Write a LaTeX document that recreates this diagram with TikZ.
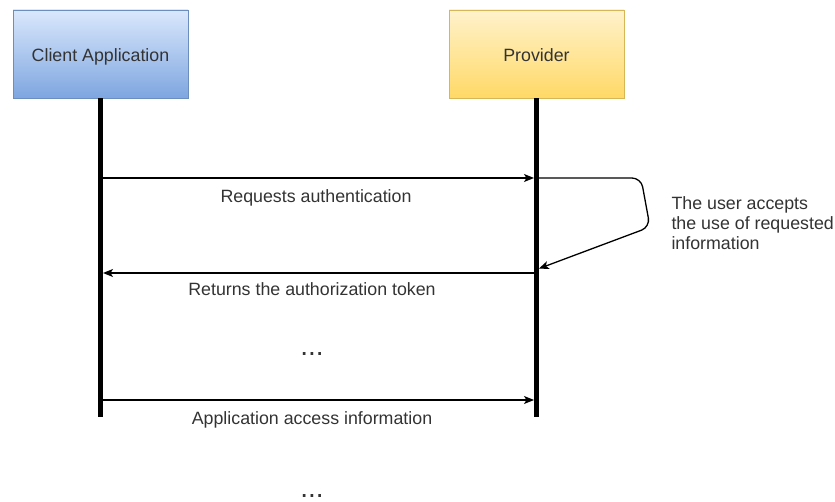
\documentclass[tikz,border=0pt]{standalone}
\usepackage{fontspec}
\setmainfont{Liberation Sans}
\usetikzlibrary{arrows.meta, positioning}
\definecolor{clienttop}{HTML}{DAE8FC}
\definecolor{clientbot}{HTML}{7EA6E0}
\definecolor{clientline}{HTML}{6C8EBF}
\definecolor{provtop}{HTML}{FFF2CC}
\definecolor{provbot}{HTML}{FFD966}
\definecolor{provline}{HTML}{D6B656}
\definecolor{txt}{HTML}{333333}
\tikzstyle{actor} = [rectangle, minimum width=175pt, minimum height=88pt,
text centered, text height=15pt, text depth=0pt, font=\fontsize{17.8}{21}\selectfont, text=txt]
\tikzstyle{client} = [actor, draw=clientline, top color=clienttop, bottom color=clientbot]
\tikzstyle{provider} = [actor, draw=provline, top color=provtop, bottom color=provbot]
\tikzstyle{lifeline} = [line width=5pt]
\tikzstyle{arrow} = [line width=1.3pt,-{Stealth[length=10pt,width=8pt,inset=2.5pt]}, shorten >=2.5pt]
\tikzstyle{msg} = [font=\fontsize{17.8}{20}\selectfont, text=txt]
\tikzstyle{dots} = [font=\fontsize{28}{30}\selectfont, text=txt, inner sep=0pt]

\begin{document}
\begin{tikzpicture}[x=1pt, y=-1pt]
      \useasboundingbox (0,0) rectangle (835,502);
      \node (client) [client] at (100.5,54) {Client Application};
      \node (prov) [provider] at (536.5,54) {Provider};

      \coordinate (cend) at (100.5,417);
      \coordinate (pend) at (536.5,417);
      \draw [lifeline] (client.south) -- (cend);
      \draw [lifeline] (prov.south) -- (pend);

      \coordinate (c1) at (100.5,178);
      \coordinate (p1) at (536.5,178);
      \coordinate (c2) at (100.5,273);
      \coordinate (p2) at (536.5,273);
      \coordinate (p3) at (536.5,269.5);
      \coordinate (c4) at (100.5,400);
      \coordinate (p4) at (536.5,400);
      \coordinate (turn1) at (641,178);
      \coordinate (turn2) at (650,227);

      \draw [arrow] (c1) -- (p1);
      \node (req) [msg] at (316,197.5) {Requests authentication};

      \draw [arrow, rounded corners=9pt] (p1) -- (turn1) -- (turn2) -- (p3);
      \node (accept) [msg, anchor=west, align=left] at (668,223)
      {The user accepts\\the use of requested\\information};

      \draw [arrow] (p2) -- (c2);
      \node (token) [msg] at (312,289.5) {Returns the authorization token};

      \node (more1) [dots] at (312,354) {...};

      \draw [arrow] (c4) -- (p4);
      \node (access) [msg] at (312,420) {Application access information};

      \node (more2) [dots] at (312,496) {...};
    \end{tikzpicture}
\end{document}
